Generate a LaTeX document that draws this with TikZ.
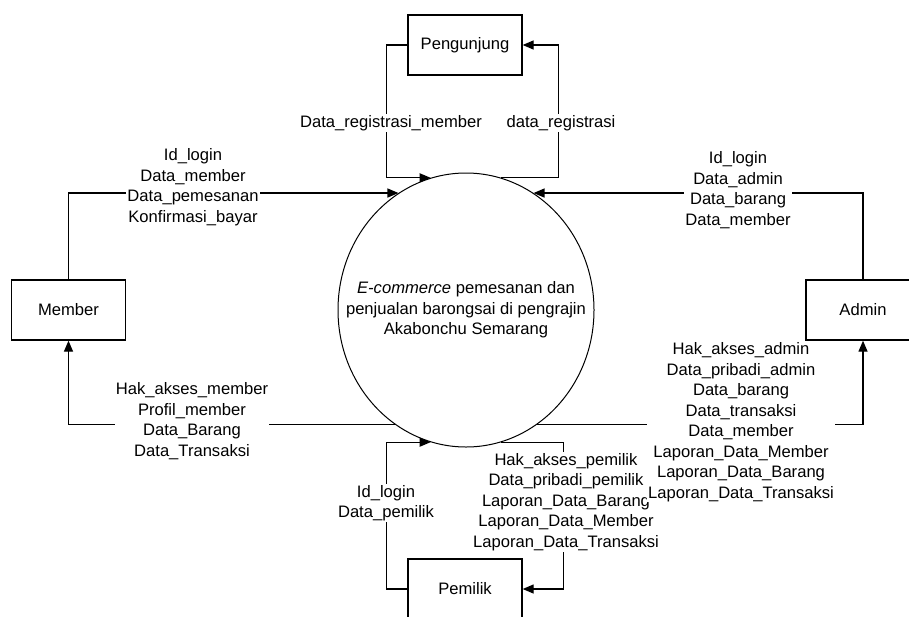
\documentclass[tikz,border=0pt]{standalone}
\usepackage{fontspec}
\setmainfont{Liberation Sans}
\usetikzlibrary{shapes.geometric,arrows.meta}

\begin{document}
\begin{tikzpicture}[
    x=1pt,y=-1pt,
    font=\fontsize{16.6}{20.5}\selectfont,
    entity/.style={draw,line width=1.3pt,minimum width=114pt,minimum height=60pt,inner sep=0pt},
    proc/.style={draw,ellipse,line width=1pt,minimum width=256pt,minimum height=274pt,inner sep=0pt},
    flow/.style={->,line width=1.3pt},
    lbl/.style={fill=white,align=center,inner sep=1pt},
    >={Triangle[length=11pt,width=9pt]}
]
\useasboundingbox (0,0) rectangle (909,616);

\node[proc,label={[align=center]center:{\textit{E-commerce} pemesanan dan\\penjualan barongsai di pengrajin\\Akabonchu Semarang}}] (proc) at (466,310) {};
\node[entity] (pengunjung) at (465,45) {Pengunjung};
\node[entity] (member) at (68.5,310) {Member};
\node[entity] (admin) at (863,310) {Admin};
\node[entity] (pemilik) at (465,589) {Pemilik};

\draw[flow] (pengunjung.west) -- ++(-21,0) |- (proc.105);
\draw[flow] (proc.75) -| ([xshift=36pt]pengunjung.east) -- (pengunjung.east);
\draw[flow] (member.north) |- (proc.120);
\draw[flow] (admin.north) |- (proc.60);
\draw[flow] (proc.238) -| (member.south);
\draw[flow] (proc.302) -| (admin.south);
\draw[flow] (pemilik.west) -- ++(-21,0) |- (proc.255);
\draw[flow] (proc.285) -| ([xshift=41pt]pemilik.east) -- (pemilik.east);

\node[lbl] (lregmember) at (391,123) {Data\_registrasi\_member};
\node[lbl] (lreg) at (561,123) {data\_registrasi};
\node[lbl] (lmembertop) at (193,187) {Id\_login\\Data\_member\\Data\_pemesanan\\Konfirmasi\_bayar};
\node[lbl] (ladmintop) at (738,190) {Id\_login\\Data\_admin\\Data\_barang\\Data\_member};
\node[lbl] (lmemberbot) at (192,421) {Hak\_akses\_member\\Profil\_member\\Data\_Barang\\Data\_Transaksi};
\node[lbl] (lpemilikleft) at (386,503) {Id\_login\\Data\_pemilik};
\node[lbl] (lpemilikright) at (566,502) {Hak\_akses\_pemilik\\Data\_pribadi\_pemilik\\Laporan\_Data\_Barang\\Laporan\_Data\_Member\\Laporan\_Data\_Transaksi};
\node[lbl] (ladminbot) at (741,422) {Hak\_akses\_admin\\Data\_pribadi\_admin\\Data\_barang\\Data\_transaksi\\Data\_member\\Laporan\_Data\_Member\\Laporan\_Data\_Barang\\Laporan\_Data\_Transaksi};
\end{tikzpicture}
\end{document}
